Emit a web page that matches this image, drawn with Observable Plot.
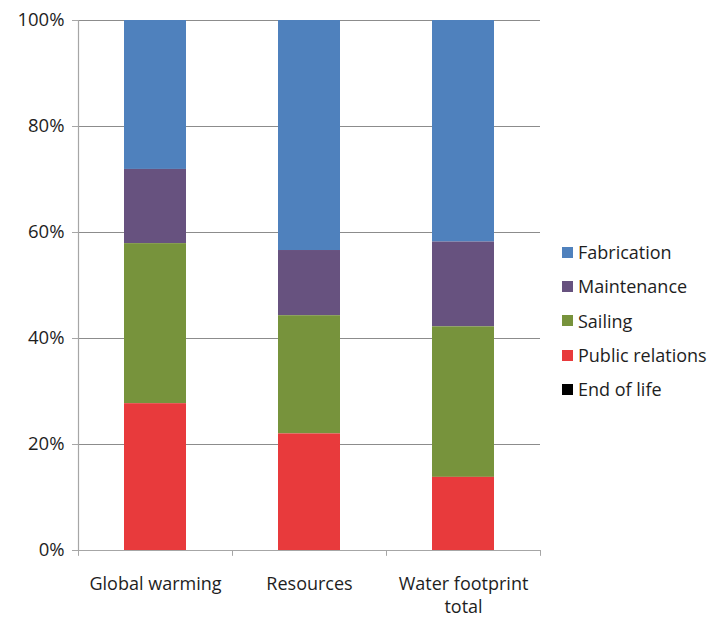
<!DOCTYPE html>
<html><head><meta charset="utf-8">
<script src="https://cdn.jsdelivr.net/npm/d3@7"></script>
<script src="https://cdn.jsdelivr.net/npm/@observablehq/plot@0.6"></script>
<style>
body{margin:0;background:#fff;font-family:"Open Sans",sans-serif;}
#wrap{position:relative;width:712px;height:617px;}
#legend{position:absolute;left:562px;top:235px;}
.item{display:flex;align-items:center;height:34.3px;font-size:18px;color:#1e1e1e;white-space:nowrap}
.sw{width:11px;height:11px;margin-right:5px;flex:none}
</style></head><body><div id="wrap"></div>
<script>
const categories = ["Global warming", "Resources", "Water footprint total"];
const xLabels = ["Global warming", "Resources", "Water footprint\ntotal"];
const series = ["Fabrication", "Maintenance", "Sailing", "Public relations", "End of life"];
const seriesColors = ["#4f81bd", "#67527f", "#77933c", "#e83a3c", "#000000"];
const fabrication = [28.1, 43.4, 41.8];
const maintenance = [14.0, 12.3, 16.0];
const sailing = [30.2, 22.3, 28.4];
const publicRelations = [27.7, 22.0, 13.8];
const endOfLife = [0, 0, 0];
const yTicks = [0, 20, 40, 60, 80, 100];

const valuesBySeries = [fabrication, maintenance, sailing, publicRelations, endOfLife];
const rows = [];
series.forEach((s, si) => categories.forEach((c, ci) => rows.push({category: c, series: s, value: valuesBySeries[si][ci]})));
const stackOrder = series.slice().reverse();

const W = 712, H = 617, ML = 78, MR = 172, MT = 20, MB = 67;
const step = (W - ML - MR) / categories.length;
const axisColor = "#a6a6a6", gridColor = "#8c8c8c";

const chart = Plot.plot({
  width: W, height: H,
  marginLeft: ML, marginRight: MR, marginTop: MT, marginBottom: MB,
  style: {fontFamily: "'Open Sans', sans-serif", fontSize: "18px", color: "#1e1e1e", background: "#fff"},
  x: {domain: categories, paddingInner: 0.6, paddingOuter: 0.3},
  y: {domain: [0, 100]},
  color: {domain: series, range: seriesColors},
  marks: [
    Plot.gridY(yTicks.filter(d => d > 0), {stroke: gridColor, strokeOpacity: 1}),
    Plot.barY(rows, Plot.stackY({x: "category", y: "value", fill: "series", order: stackOrder})),
    Plot.ruleY([0], {stroke: axisColor, strokeWidth: 1.2}),
    Plot.ruleX([categories[0]], {dx: -step / 2, y1: 0, y2: 100, stroke: axisColor, strokeWidth: 1.2}),
    Plot.ruleX(categories, {dx: -step / 2, y1: 0, y2: -1.1, stroke: axisColor}),
    Plot.ruleX([categories[categories.length - 1]], {dx: step / 2, y1: 0, y2: -1.1, stroke: axisColor}),
    Plot.axisY({ticks: yTicks, tickFormat: d => d + "%", tickSize: 6, tickPadding: 8, stroke: axisColor, label: null, fontSize: 18.5}),
    Plot.axisX({tickSize: 0, tickPadding: 23, tickFormat: (d, i) => xLabels[categories.indexOf(d)], label: null, fontSize: 18, lineHeight: 1.28})
  ]
});

const wrap = document.getElementById("wrap");
wrap.appendChild(chart);
const legend = document.createElement("div");
legend.id = "legend";
series.forEach((s, i) => {
  const item = document.createElement("div");
  item.className = "item";
  const sw = document.createElement("span");
  sw.className = "sw";
  sw.style.background = seriesColors[i];
  item.appendChild(sw);
  item.appendChild(document.createTextNode(s));
  legend.appendChild(item);
});
wrap.appendChild(legend);
</script></body></html>
